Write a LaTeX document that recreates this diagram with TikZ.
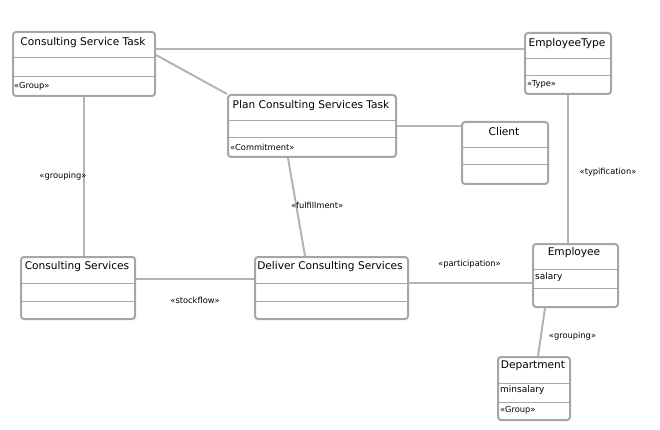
\documentclass[tikz,border=0pt]{standalone}
\usepackage{fontspec}
\setmainfont{DejaVu Sans}
\usetikzlibrary{positioning}
\definecolor{boxgrey}{RGB}{166,166,166}
\definecolor{linegrey}{RGB}{180,180,180}
\begin{document}
\begin{tikzpicture}[x=1pt,y=-1pt,
  cls/.style={draw=boxgrey,line width=2pt,rounded corners=3pt,fill=white,inner sep=0pt,anchor=north west},
  sep/.style={draw=boxgrey,line width=1pt},
  title/.style={font=\fontsize{10.6}{12}\selectfont,inner sep=0pt},
  attr/.style={font=\fontsize{9}{10}\selectfont,inner sep=0pt,anchor=west},
  stereo/.style={font=\fontsize{8.3}{9}\selectfont,inner sep=0pt,anchor=west},
  assoc/.style={draw=linegrey,line width=2pt},
  lbl/.style={font=\fontsize{8.3}{9}\selectfont,inner sep=0pt}]
  \useasboundingbox (0,0) rectangle (660,430);

  % classes
  \node[cls,minimum width=142pt,minimum height=64pt] (cst) at (12,31) {};
  \draw[sep] (12,58) -- (154,58) (12,77) -- (154,77);
  \node[title] (cst-t) at (83,43) {Consulting Service Task};
  \node[stereo] (cst-s) at (14,86) {«Group»};

  \node[cls,minimum width=168pt,minimum height=62pt] (pcst) at (227,94) {};
  \draw[sep] (227,121) -- (395,121) (227,138) -- (395,138);
  \node[title] (pcst-t) at (311,106) {Plan Consulting Services Task};
  \node[stereo] (pcst-s) at (230,147) {«Commitment»};

  \node[cls,minimum width=86pt,minimum height=61pt] (et) at (524,32) {};
  \draw[sep] (524,59) -- (610,59) (524,76) -- (610,76);
  \node[title] (et-t) at (567,44) {EmployeeType};
  \node[stereo] (et-s) at (527,84) {«Type»};

  \node[cls,minimum width=86pt,minimum height=62pt] (client) at (461,121) {};
  \draw[sep] (461,148) -- (547,148) (461,165) -- (547,165);
  \node[title] (client-t) at (504,132) {Client};

  \node[cls,minimum width=114pt,minimum height=62pt] (cs) at (20,256) {};
  \draw[sep] (20,283) -- (134,283) (20,301) -- (134,301);
  \node[title] (cs-t) at (77,267) {Consulting Services};

  \node[cls,minimum width=153pt,minimum height=62pt] (dcs) at (254,256) {};
  \draw[sep] (254,283) -- (407,283) (254,301) -- (407,301);
  \node[title] (dcs-t) at (330,267) {Deliver Consulting Services};

  \node[cls,minimum width=85pt,minimum height=63pt] (emp) at (532,243) {};
  \draw[sep] (532,269) -- (617,269) (532,288) -- (617,288);
  \node[title] (emp-t) at (574,253) {Employee};
  \node[attr] (emp-a) at (535,277) {salary};

  \node[cls,minimum width=72pt,minimum height=63pt] (dept) at (497,356) {};
  \draw[sep] (497,383) -- (569,383) (497,402) -- (569,402);
  \node[title] (dept-t) at (533,366) {Department};
  \node[attr] (dept-a) at (500,390) {minsalary};
  \node[stereo] (dept-s) at (500,410) {«Group»};

  % associations
  \draw[assoc] ([yshift=15pt]cst.east) -- ([yshift=15pt]cst.east -| et.west);
  \draw[assoc] ([yshift=9pt]cst.east) -- (pcst.north west);
  \draw[assoc] (pcst.east) -- (pcst.east -| client.west);
  \draw[assoc] (cst.south) -- node[lbl,pos=0.5,xshift=-21pt]{«grouping»} (cst.south |- cs.north);
  \draw[assoc] ([xshift=-24pt]pcst.south) -- node[lbl,pos=0.48,xshift=21pt]{«fulfillment»} ([xshift=-26.5pt]dcs.north);
  \draw[assoc] ([yshift=9pt]cs.east) -- node[lbl,yshift=-21pt]{«stockflow»} ([yshift=9pt]cs.east -| dcs.west);
  \draw[assoc] ([yshift=5pt]dcs.east) -- node[lbl,xshift=-1pt,yshift=19pt]{«participation»} ([yshift=5pt]dcs.east -| emp.west);
  \draw[assoc] (et.south) -- node[lbl,pos=0.52,xshift=40pt]{«typification»} (et.south |- emp.north);
  \draw[assoc] ([xshift=-30.5pt]emp.south) -- node[lbl,xshift=31pt,yshift=-4pt]{«grouping»} ([xshift=4pt]dept.north);
\end{tikzpicture}
\end{document}
